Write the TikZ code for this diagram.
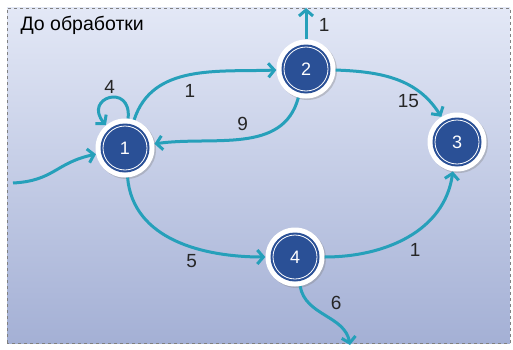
\documentclass[tikz,border=0pt]{standalone}
\usepackage{fontspec}
\setmainfont{Liberation Sans}
\usetikzlibrary{arrows.meta,shadows}

\definecolor{flowteal}{RGB}{38,160,186}
\definecolor{statefill}{RGB}{42,80,150}
\definecolor{bgtop}{RGB}{227,232,246}
\definecolor{bgbottom}{RGB}{164,176,213}

\tikzstyle{graphstyle}=[
    x=1pt, y=1pt,
    >={Straight Barb[length=6pt,width=14pt]},
    flow/.style={->, draw=flowteal, line width=3pt},
    weight/.style={font=\fontsize{19}{19}\selectfont, text=black!85},
    stnode/.style={
        circle, inner sep=0pt,
        minimum size=59pt,
        fill=white,
        drop shadow={shadow xshift=1.5pt, shadow yshift=-1.5pt, opacity=0.35},
        text=white,
        font=\fontsize{18}{18}\selectfont,
        path picture={
            \fill[statefill] (path picture bounding box.center) circle (24.5pt);
            \draw[white, line width=0.8pt] (path picture bounding box.center) circle (22pt);
        },
    },
]

\begin{document}
\begin{tikzpicture}[graphstyle]
        \useasboundingbox (0,0) rectangle (513,349);
        \shade[top color=bgtop, bottom color=bgbottom] (7,6) rectangle (510,341);
        \draw[gray, dashed, line width=0.6pt] (7,6) rectangle (510,341);
        \node (title) at (17, 324) [anchor=west, font=\fontsize{19.5}{19.5}\selectfont] {До обработки};

        \node (n1) at (125, 201) [stnode] {1};
        \node (n2) at (306, 280) [stnode] {2};
        \node (n3) at (457, 207) [stnode] {3};
        \node (n4) at (295, 92) [stnode] {4};

        \coordinate (start) at (13, 166);
        \coordinate (exit2) at (306, 341);
        \coordinate (exit4) at (350, 4);

        \draw[flow] (start) to[out=3, in=192, looseness=1.2] (n1);
        \draw[flow] (n1) to[out=84, in=130, looseness=4] node[weight, above] {4} (n1);
        \draw[flow] (n1) to[out=72, in=182] node[weight, pos=0.5, below=5pt] {1} (n2);
        \draw[flow] (n2) to[out=-105, in=8] node[weight, pos=0.5, above=4pt] {9} (n1);
        \draw[flow] (n2) to[out=-2, in=122] node[weight, pos=0.84, left=5pt] {15} (n3);
        \draw[flow] (n1) to[out=-85, in=180] node[weight, pos=0.6, below=3pt] {5} (n4);
        \draw[flow] (n4) to[out=0, in=-98] node[weight, pos=0.55, below=6pt] {1} (n3);
        \draw[flow] (n2) -- node[weight, pos=0.45, right=8pt] {1} (exit2);
        \draw[flow] (n4) to[out=-80, in=100] node[weight, pos=0.5, above right=1pt] {6} (exit4);
    \end{tikzpicture}
\end{document}
